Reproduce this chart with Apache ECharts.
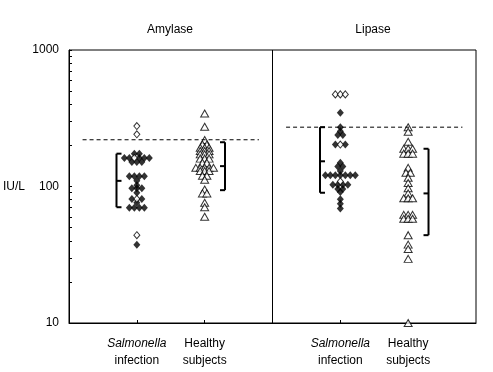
<!DOCTYPE html>
<html><head><meta charset="utf-8">
<script src="https://cdn.jsdelivr.net/npm/echarts@6/dist/echarts.min.js"></script>
<style>html,body{margin:0;padding:0;background:#fff}#c{width:493px;height:372px}</style>
</head><body><div id="c"></div>
<script>
// ---------- data ----------
const panels = ['Amylase', 'Lipase'];
const groupLabels = ['{i|Salmonella}\ninfection', 'Healthy\nsubjects'];
const yTickLabels = [10, 100, 1000];
const yMinorTicks = [20, 30, 40, 50, 60, 70, 80, 90, 200, 300, 400, 500, 600, 700, 800, 900];
const yAxisName = 'IU/L';

// Amylase
const amySalFilled = [174, 174, 162, 162, 162, 162, 162, 151, 151, 151, 119, 119, 119, 119, 110, 102, 97, 97, 97, 90, 81, 81, 76, 70, 70, 70, 70, 37.5];
const amySalOpen = [277, 241, 162, 81, 44];
const amyHealthy = [343, 274, 219, 203, 203, 192, 192, 192, 182, 182, 182, 172, 172, 172, 160, 160, 160, 149, 149, 137, 137, 137, 137, 137, 130, 130, 130, 120, 120, 112, 95, 89, 89, 76, 70.5, 60];
// Lipase
const lipSalFilled = [347, 272, 254, 238, 238, 203, 203, 149, 140, 140, 130, 121, 121, 121, 121, 121, 121, 121, 103, 103, 103, 103, 96, 96, 91, 80.5, 74.7, 69];
const lipSalOpen = [473, 473, 473, 203, 109];
const lipHealthy = [272, 252, 213, 189, 189, 189, 174, 174, 174, 137, 126, 126, 116, 106, 97, 89, 82, 82, 82, 62, 62, 62, 58, 58, 58, 44, 37.5, 34.8, 29.5, 10];

// upper reference limits (dashed lines)
const refLimits = [220, 272];
// brackets: [high, mid, low]
const amySalBracket = [174, 110, 70.5];
const amyHealthyBracket = [211, 141, 94];
const lipSalBracket = [272, 153, 90];
const lipHealthyBracket = [189, 89, 44];

// ---------- layout (code, not data) ----------
const panelPos = [[1, 2], [4, 5]];
const DIAMOND_STEP = 0.0735;
const TRI_STEP = 0.065;
const BRACKET_OFF = 0.3;
const FONT = 'Liberation Sans';

function swarm(center, filled, open, step) {
  const rows = new Map();
  filled.forEach(v => { if (!rows.has(v)) rows.set(v, {f: 0, o: 0}); rows.get(v).f++; });
  open.forEach(v => { if (!rows.has(v)) rows.set(v, {f: 0, o: 0}); rows.get(v).o++; });
  const F = [], O = [];
  rows.forEach((r, v) => {
    const n = r.f + r.o;
    const left = Math.floor(r.f / 2);
    for (let k = 0; k < n; k++) {
      const x = center + (k - (n - 1) / 2) * step;
      const isOpen = k >= left && k < left + r.o;
      (isOpen ? O : F).push([x, v]);
    }
  });
  return {F, O};
}

const a1 = swarm(panelPos[0][0], amySalFilled, amySalOpen, DIAMOND_STEP);
const l1 = swarm(panelPos[1][0], lipSalFilled, lipSalOpen, DIAMOND_STEP);
const a2 = swarm(panelPos[0][1], amyHealthy, [], TRI_STEP);
const l2 = swarm(panelPos[1][1], lipHealthy, [], TRI_STEP);

const bracketData = [
  [panelPos[0][0] - BRACKET_OFF, ...amySalBracket, 1],
  [panelPos[0][1] + BRACKET_OFF, ...amyHealthyBracket, -1],
  [panelPos[1][0] - BRACKET_OFF, ...lipSalBracket, 1],
  [panelPos[1][1] + BRACKET_OFF, ...lipHealthyBracket, -1]
];

const chart = echarts.init(document.getElementById('c'), null, {renderer: 'canvas'});
const black = '#000';
chart.setOption({
  animation: false,
  backgroundColor: '#fff',
  textStyle: {fontFamily: FONT, color: black},
  grid: {left: 68, right: 17, top: 50, bottom: 49, show: true, borderColor: black, borderWidth: 1, backgroundColor: 'transparent'},
  xAxis: {
    type: 'value', min: 0, max: 6, interval: 1,
    splitLine: {show: false},
    axisLine: {show: true, lineStyle: {color: black, width: 1}},
    axisTick: {show: true, inside: true, length: 3, lineStyle: {color: black}, customValues: [1, 2, 4, 5]},
    axisLabel: {
      customValues: [1, 2, 4, 5],
      margin: 12, color: black, fontSize: 12, fontFamily: FONT, lineHeight: 17,
      formatter: v => (v === 1 || v === 4) ? groupLabels[0] : groupLabels[1],
      rich: {i: {fontStyle: 'italic', fontSize: 12, fontFamily: FONT, color: black, lineHeight: 17}}
    }
  },
  yAxis: {
    type: 'log', logBase: 10, min: 10, max: 1000,
    name: yAxisName, nameLocation: 'middle', nameRotate: 0, nameGap: 44,
    nameTextStyle: {color: black, fontSize: 12, fontFamily: FONT},
    splitLine: {show: false},
    axisLine: {show: true, lineStyle: {color: black, width: 1}},
    axisTick: {show: true, inside: true, length: 3, lineStyle: {color: black}, customValues: yTickLabels.concat(yMinorTicks)},
    axisLabel: {color: black, fontSize: 12, fontFamily: FONT, margin: 10,
      customValues: yTickLabels, formatter: v => String(Math.round(v))}
  },
  graphic: [
    {type: 'text', x: 170, y: 30, style: {text: panels[0], textAlign: 'center', textVerticalAlign: 'middle', font: '12px ' + FONT, fill: black}},
    {type: 'text', x: 373, y: 30, style: {text: panels[1], textAlign: 'center', textVerticalAlign: 'middle', font: '12px ' + FONT, fill: black}}
  ],
  series: [
    {type: 'line', silent: true, symbol: 'none', data: [[3, 10], [3, 1000]], lineStyle: {color: black, width: 1}},
    {type: 'line', silent: true, symbol: 'none', data: [[0.2, refLimits[0]], [2.8, refLimits[0]]], lineStyle: {color: black, width: 1, type: [4, 3]}},
    {type: 'line', silent: true, symbol: 'none', data: [[3.2, refLimits[1]], [5.8, refLimits[1]]], lineStyle: {color: black, width: 1, type: [4, 3]}},
    {
      type: 'custom', silent: true, data: bracketData,
      renderItem: function (params, api) {
        const x = api.value(0), dir = api.value(4);
        const top = api.coord([x, api.value(1)]);
        const mid = api.coord([x, api.value(2)]);
        const bot = api.coord([x, api.value(3)]);
        const L = 5 * dir;
        const st = {stroke: black, lineWidth: 2, fill: null};
        return {type: 'group', children: [
          {type: 'line', shape: {x1: top[0], y1: top[1], x2: bot[0], y2: bot[1]}, style: st},
          {type: 'line', shape: {x1: top[0], y1: top[1], x2: top[0] + L, y2: top[1]}, style: st},
          {type: 'line', shape: {x1: mid[0], y1: mid[1], x2: mid[0] + L, y2: mid[1]}, style: st},
          {type: 'line', shape: {x1: bot[0], y1: bot[1], x2: bot[0] + L, y2: bot[1]}, style: st}
        ]};
      }
    },
    {type: 'scatter', silent: true, symbol: 'diamond', symbolSize: [7, 8], data: a1.F.concat(l1.F), itemStyle: {color: black}},
    {type: 'scatter', silent: true, symbol: 'diamond', symbolSize: [6, 7], data: a1.O.concat(l1.O), itemStyle: {color: '#fff', borderColor: black, borderWidth: 1}},
    {type: 'scatter', silent: true, symbol: 'triangle', symbolSize: [8, 7], data: a2.F.concat(l2.F), itemStyle: {color: '#fff', borderColor: black, borderWidth: 1}}
  ]
});
</script>
</body></html>
